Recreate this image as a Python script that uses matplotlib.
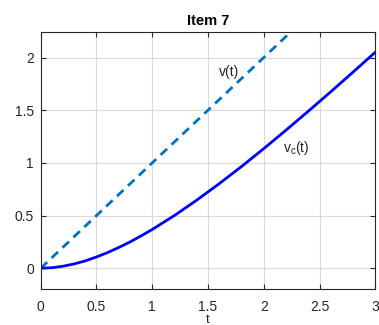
import matplotlib
matplotlib.use("Agg")
import matplotlib.pyplot as plt

plt.rcParams['font.family'] = ['Liberation Sans', 'DejaVu Sans']
plt.rcParams['mathtext.fontset'] = 'custom'
plt.rcParams['mathtext.rm'] = 'Liberation Sans'

# data
v_t = [0.0, 2.25]
v_vals = [0.0, 2.25]
vc_t = [0.0, 0.1, 0.2, 0.3, 0.4, 0.5, 0.6, 0.7, 0.8, 0.9, 1.0, 1.2, 1.4, 1.6, 1.8,
        2.0, 2.2, 2.4, 2.6, 2.8, 3.0]
vc_vals = [0.0, 0.005, 0.019, 0.041, 0.070, 0.107, 0.149, 0.197, 0.249, 0.307, 0.368,
           0.501, 0.647, 0.802, 0.965, 1.135, 1.311, 1.491, 1.674, 1.861, 2.050]
xticks = [0, 0.5, 1, 1.5, 2, 2.5, 3]
xticklabels = ['0', '0.5', '1', '1.5', '2', '2.5', '3']
yticks = [0, 0.5, 1, 1.5, 2]
yticklabels = ['0', '0.5', '1', '1.5', '2']

fig = plt.figure(figsize=(3.79, 3.25), dpi=100)
ax = fig.add_axes([0.1074, 0.1098, 0.8828, 0.7927])

ax.plot(v_t, v_vals, linestyle=(0, (3.2, 2.2)), color='#0072BD', linewidth=2)
ax.plot(vc_t, vc_vals, color='#0000FF', linewidth=2)

ax.set_xlim(0, 3)
ax.set_ylim(-0.2, 2.245)
ax.set_xticks(xticks)
ax.set_xticklabels(xticklabels)
ax.set_yticks(yticks)
ax.set_yticklabels(yticklabels)
ax.grid(True, color='#DADADA', linewidth=0.8)
ax.set_axisbelow(True)
ax.tick_params(direction='in', top=True, right=True, length=3.5, width=0.8,
               colors='#262626', labelsize=10)
ax.tick_params(axis='x', pad=8)
ax.tick_params(axis='y', pad=5)
for s in ax.spines.values():
    s.set_color('#262626')
    s.set_linewidth(0.8)

ax.set_title('Item 7', fontsize=10.5, fontweight='bold', pad=5)
ax.set_xlabel('t', fontsize=9.5, color='#262626', labelpad=0)

ax.text(1.69, 1.86, 'v(t)', fontsize=10, ha='center', va='center', color='#262626')
ax.text(2.29, 1.14, r'v$_{\rm c}$(t)', fontsize=10, ha='center', va='center', color='#262626')

fig.savefig('out.png', dpi=100)
